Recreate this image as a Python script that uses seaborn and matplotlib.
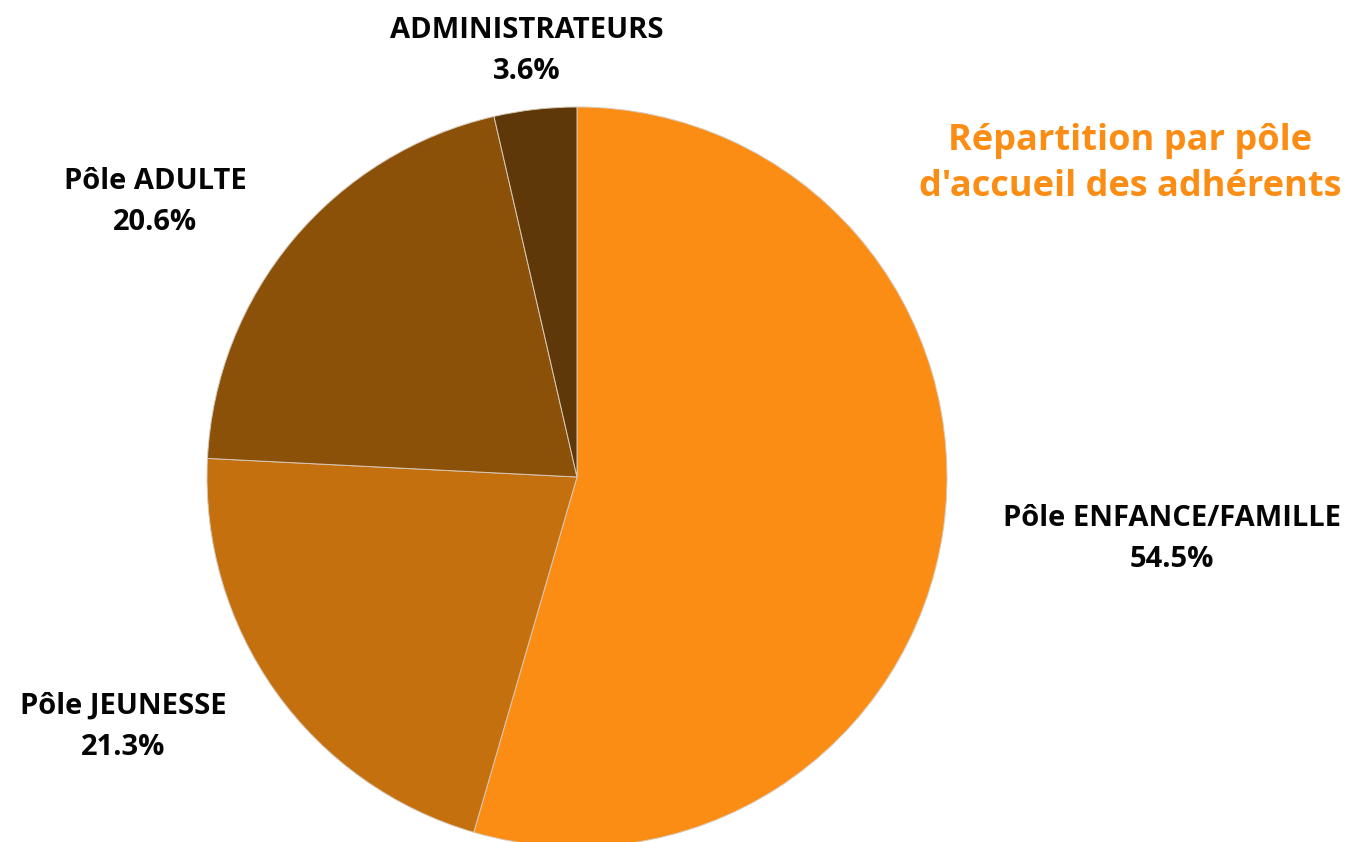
import matplotlib
matplotlib.use("Agg")
import matplotlib.pyplot as plt
import seaborn as sns

categories = ["Pôle ENFANCE/FAMILLE", "Pôle JEUNESSE", "Pôle ADULTE", "ADMINISTRATEURS"]
values = [54.5, 21.3, 20.6, 3.6]
colors = ["#FB8D14", "#C4700E", "#8C5109", "#5E3809"]
title_lines = "Répartition par pôle\nd'accueil des adhérents"

sns.set_theme(style="white")
plt.rcParams['font.family'] = ['Open Sans', 'DejaVu Sans']

W, H = 1357, 842
fig = plt.figure(figsize=(W / 100, H / 100), dpi=100)
cx, cy, r = 577, 477, 370
ax = fig.add_axes([(cx - r) / W, (H - cy - r) / H, 2 * r / W, 2 * r / H])
ax.pie(values, colors=colors, startangle=90, counterclock=False, radius=1,
       wedgeprops=dict(edgecolor="#d8c8b8", linewidth=0.7))
ax.set_xlim(-1, 1)
ax.set_ylim(-1, 1)
ax.set_aspect("equal")
ax.axis("off")

label_pos = {
    "Pôle ENFANCE/FAMILLE": (1172, 539),
    "Pôle JEUNESSE": (123, 727),
    "Pôle ADULTE": (155, 202),
    "ADMINISTRATEURS": (527, 51),
}
for cat, v in zip(categories, values):
    x, y = label_pos[cat]
    fig.text(x / W, 1 - y / H, f"{cat}\n{v:.1f}%", ha="center", va="center",
             fontsize=21, fontweight="bold", color="#050505", linespacing=1.57)

fig.text(1130 / W, 1 - 164 / H, title_lines, ha="center", va="center",
         fontsize=26, fontweight="bold", color="#FB8D14", linespacing=1.38)

fig.savefig("out.png", dpi=100, facecolor="white")
